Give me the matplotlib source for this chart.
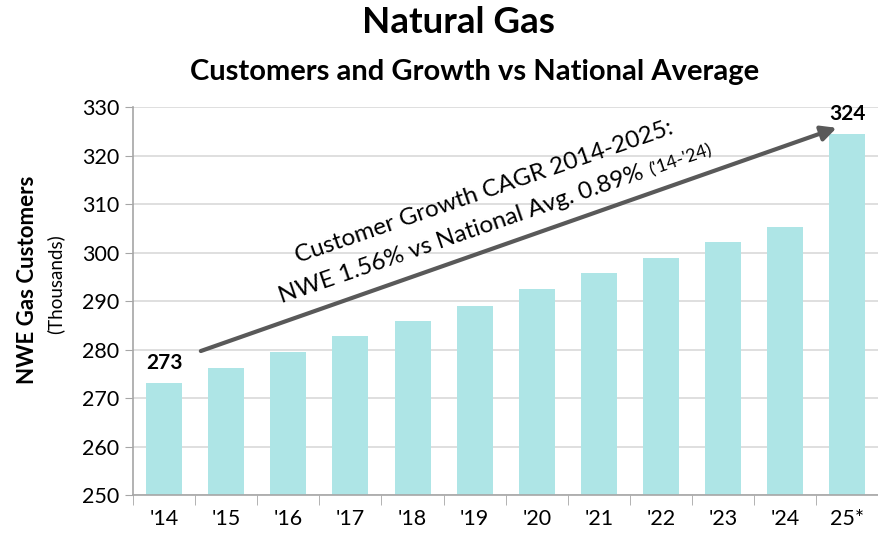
"""
Natural gas customers per year with CAGR arrow, recreated with matplotlib.
"""

import math

import matplotlib

matplotlib.use("Agg")
import matplotlib.pyplot as plt
from matplotlib.font_manager import FontProperties

plt.rcParams["font.family"] = ["Lato", "DejaVu Sans"]

years = ["'14", "'15", "'16", "'17", "'18", "'19", "'20", "'21", "'22", "'23", "'24", "25*"]
customers = [273.1, 276.2, 279.5, 282.8, 285.9, 289.0, 292.5, 295.8, 298.9, 302.2, 305.3, 324.4]
labelled = {0: "273", 11: "324"}
y_ticks = [250, 260, 270, 280, 290, 300, 310, 320, 330]

BAR_COLOR = "#AEE5E6"
AXIS_GRAY = "#A6A6A6"
GRID_GRAY = "#D9D9D9"
ARROW_GRAY = "#595959"

fig = plt.figure(figsize=(8.79, 5.37), dpi=100)
ax = fig.add_axes([0.1513, 0.0782, 0.848, 0.7225])

x = list(range(len(years)))
ax.bar(x, customers, width=0.58, color=BAR_COLOR, zorder=2)

ax.set_xlim(-0.5, len(years) - 0.5)
ax.set_ylim(250, 330)
ax.set_yticks(y_ticks)
ax.set_yticklabels([str(v) for v in y_ticks], fontsize=15.5)
ax.set_xticks(x)
ax.set_xticklabels(years, fontsize=15.5)
ax.tick_params(axis="x", length=0, pad=10)
ax.tick_params(axis="y", length=6, color=AXIS_GRAY, direction="out", pad=4)

# category separators on the x axis, drawn as minor ticks
ax.set_xticks([i + 0.5 for i in x[:-1]] + [-0.5], minor=True)
ax.tick_params(axis="x", which="minor", length=7, color=AXIS_GRAY, direction="out")

ax.grid(True, axis="y", color=GRID_GRAY, linewidth=1.2, zorder=0)
for side in ("top", "right"):
    ax.spines[side].set_visible(False)
for side in ("left", "bottom"):
    ax.spines[side].set_color(AXIS_GRAY)
    ax.spines[side].set_linewidth(1.2)

for i, text in labelled.items():
    ax.annotate(
        text,
        (i, customers[i]),
        textcoords="offset points",
        xytext=(0, 7),
        ha="center",
        va="bottom",
        fontsize=15,
        fontweight="bold",
    )

# growth arrow
ax.annotate(
    "",
    xy=(10.87, 325.9),
    xytext=(0.55, 279.5),
    arrowprops=dict(arrowstyle="-|>,head_length=0.9,head_width=0.45", color=ARROW_GRAY, lw=3),
    zorder=4,
)

angle = 19.0
main_size = 17.5
small_size = 13
line1 = "Customer Growth CAGR 2014-2025:"
line2 = "NWE 1.56% vs National Avg. 0.89%"
line2_start = (1.90, 289.6)

ax.text(2.16, 297.8, line1, rotation=angle, rotation_mode="anchor",
        ha="left", va="baseline", fontsize=main_size)
ax.text(*line2_start, line2, rotation=angle, rotation_mode="anchor",
        ha="left", va="baseline", fontsize=main_size)

# smaller period note continues on the baseline of the second line
renderer = fig.canvas.get_renderer()
line2_width = renderer.get_text_width_height_descent(
    line2, FontProperties(family=["Lato", "DejaVu Sans"], size=main_size), ismath=False
)[0]
step = line2_width + 6
ax.annotate("('14-'24)", line2_start, textcoords="offset pixels",
            xytext=(step * math.cos(math.radians(angle)), step * math.sin(math.radians(angle))),
            rotation=angle, rotation_mode="anchor", ha="left", va="baseline",
            fontsize=small_size)

fig.text(0.521, 0.959, "Natural Gas", ha="center", va="center",
         fontsize=26.5, fontweight="bold")
fig.text(0.540, 0.866, "Customers and Growth vs National Average", ha="center",
         va="center", fontsize=21, fontweight="bold")

fig.text(0.031, 0.479, "NWE Gas Customers", rotation=90, ha="center", va="center",
         fontsize=16, fontweight="bold")
fig.text(0.063, 0.47, "(Thousands)", rotation=90, ha="center", va="center",
         fontsize=13.5)

fig.savefig("out.png", dpi=100)
